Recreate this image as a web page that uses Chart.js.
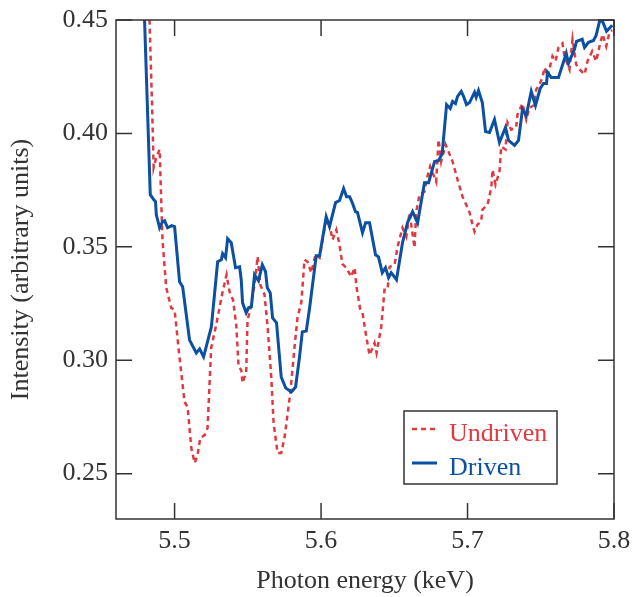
<!DOCTYPE html>
<html><head><meta charset="utf-8">
<script src="https://cdn.jsdelivr.net/npm/chart.js@4.4.1/dist/chart.umd.min.js"></script>
<style>html,body{margin:0;padding:0;background:#fff;}</style>
</head><body>
<canvas id="c" width="632" height="597" style="width:632px;height:597px;display:block"></canvas>
<script>
const seriesLabels = ['Undriven', 'Driven'];
const xAxisTitle = 'Photon energy (keV)';
const yAxisTitle = 'Intensity (arbitrary units)';
const xTickValues = [5.5, 5.6, 5.7, 5.8];
const yTickValues = [0.25, 0.30, 0.35, 0.40, 0.45];

const undrivenEnergy = [5.4820,5.4829,5.4848,5.4857,5.4875,5.4898,5.4909,5.4918,5.4943,5.4977,5.5000,5.5034,5.5068,5.5089,5.5114,5.5137,5.5157,5.5175,5.5205,5.5225,5.5250,5.5284,5.5328,5.5355,5.5375,5.5399,5.5421,5.5437,5.5455,5.5464,5.5489,5.5498,5.5517,5.5546,5.5567,5.5585,5.5614,5.5635,5.5660,5.5676,5.5703,5.5728,5.5751,5.5790,5.5819,5.5840,5.5865,5.5887,5.5908,5.5933,5.5962,5.5990,5.6008,5.6035,5.6058,5.6078,5.6104,5.6126,5.6145,5.6172,5.6206,5.6229,5.6242,5.6268,5.6283,5.6309,5.6331,5.6365,5.6379,5.6411,5.6433,5.6454,5.6468,5.6502,5.6522,5.6556,5.6582,5.6604,5.6638,5.6650,5.6672,5.6706,5.6720,5.6745,5.6786,5.6802,5.6820,5.6850,5.6898,5.6932,5.6966,5.6991,5.7014,5.7034,5.7048,5.7068,5.7093,5.7102,5.7137,5.7162,5.7171,5.7191,5.7218,5.7230,5.7259,5.7273,5.7298,5.7332,5.7341,5.7375,5.7401,5.7423,5.7451,5.7469,5.7491,5.7512,5.7526,5.7546,5.7580,5.7601,5.7621,5.7648,5.7662,5.7696,5.7717,5.7742,5.7765,5.7799,5.7819,5.7851,5.7878,5.7901,5.7922,5.7947,5.7969,5.7988];
const undrivenIntensity = [0.470,0.4496,0.4083,0.3849,0.3894,0.3929,0.3699,0.3523,0.3320,0.3231,0.3222,0.3010,0.2816,0.2794,0.2613,0.2547,0.2582,0.2657,0.2670,0.2701,0.3055,0.3156,0.3302,0.3377,0.3302,0.3266,0.3156,0.2970,0.2957,0.2900,0.2948,0.3178,0.3222,0.3333,0.3457,0.3333,0.3289,0.3147,0.2926,0.2723,0.2591,0.2591,0.2661,0.2856,0.3059,0.3192,0.3253,0.3443,0.3434,0.3386,0.3465,0.3452,0.3518,0.3620,0.3598,0.3531,0.3575,0.3509,0.3425,0.3408,0.3368,0.3408,0.3324,0.3222,0.3209,0.3103,0.3023,0.3076,0.3032,0.3147,0.3311,0.3311,0.3412,0.3421,0.3500,0.3584,0.3545,0.3651,0.3496,0.3655,0.3730,0.3743,0.3796,0.3854,0.3787,0.3973,0.3876,0.3951,0.3876,0.3796,0.3721,0.3686,0.3651,0.3598,0.3567,0.3598,0.3611,0.3664,0.3686,0.3761,0.3840,0.3774,0.3832,0.3942,0.3929,0.4048,0.4017,0.4026,0.4083,0.4132,0.4061,0.4114,0.4123,0.4194,0.4216,0.4247,0.4291,0.4251,0.4340,0.4318,0.4379,0.4397,0.4340,0.4282,0.4415,0.4304,0.4282,0.4260,0.4318,0.4362,0.4318,0.4384,0.4437,0.4384,0.4446,0.4455];

const drivenEnergy = [5.4785,5.4795,5.4834,5.4857,5.4870,5.4875,5.4898,5.4918,5.4932,5.4952,5.4980,5.5000,5.5034,5.5055,5.5102,5.5148,5.5171,5.5198,5.5251,5.5294,5.5319,5.5328,5.5348,5.5362,5.5387,5.5416,5.5444,5.5455,5.5464,5.5489,5.5505,5.5524,5.5546,5.5573,5.5599,5.5621,5.5633,5.5653,5.5669,5.5696,5.5728,5.5758,5.5797,5.5826,5.5853,5.5872,5.5899,5.5922,5.5967,5.5990,5.6035,5.6058,5.6099,5.6126,5.6154,5.6174,5.6195,5.6213,5.6235,5.6249,5.6283,5.6304,5.6331,5.6372,5.6392,5.6418,5.6440,5.6461,5.6479,5.6515,5.6556,5.6590,5.6625,5.6659,5.6706,5.6734,5.6775,5.6802,5.6827,5.6857,5.6882,5.6898,5.6918,5.6932,5.6957,5.6973,5.6993,5.7014,5.7048,5.7059,5.7075,5.7101,5.7123,5.7150,5.7184,5.7218,5.7259,5.7280,5.7321,5.7348,5.7375,5.7401,5.7435,5.7464,5.7496,5.7519,5.7539,5.7546,5.7571,5.7621,5.7674,5.7689,5.7730,5.7744,5.7783,5.7799,5.7826,5.7860,5.7878,5.7901,5.7922,5.7949,5.7988];
const drivenIntensity = [0.470,0.450,0.3730,0.3708,0.3699,0.3642,0.3584,0.3611,0.3615,0.3584,0.3593,0.3589,0.3346,0.3324,0.3090,0.3032,0.3050,0.3015,0.3147,0.3434,0.3443,0.3470,0.3452,0.3536,0.3518,0.3408,0.3412,0.3355,0.3253,0.3209,0.3231,0.3235,0.3377,0.3350,0.3421,0.3390,0.3319,0.3297,0.3187,0.3165,0.2926,0.2878,0.2860,0.2882,0.3015,0.3125,0.3129,0.3231,0.3461,0.3461,0.3633,0.3589,0.3695,0.3704,0.3757,0.3721,0.3721,0.3695,0.3655,0.3651,0.3562,0.3606,0.3606,0.3465,0.3456,0.3386,0.3408,0.3364,0.3386,0.3355,0.3518,0.3606,0.3655,0.3606,0.3783,0.3783,0.3876,0.3880,0.3911,0.4127,0.4110,0.4141,0.4132,0.4163,0.4185,0.4163,0.4127,0.4136,0.4181,0.4159,0.4189,0.4136,0.4008,0.4004,0.4061,0.3960,0.4026,0.3969,0.3947,0.3969,0.4106,0.4079,0.4185,0.4123,0.4198,0.4220,0.4220,0.4269,0.4247,0.4247,0.4353,0.4309,0.4371,0.4406,0.4415,0.4379,0.4402,0.4410,0.4432,0.4494,0.4494,0.4450,0.4477];

const RED = '#e2383f';
const BLUE = '#0b50a3';
const INK = '#333333';
const FONT = '"Liberation Serif", "Times New Roman", serif';

const toPoints = (xs, ys) => xs.map((x, i) => ({x: x, y: ys[i]}));

const frameTicks = {
  id: 'frameTicks',
  afterDatasetsDraw(chart) {
    const {ctx, chartArea: a, scales} = chart;
    const L = 16;
    ctx.save();
    ctx.strokeStyle = INK;
    ctx.lineWidth = 1.5;
    ctx.beginPath();
    xTickValues.forEach(v => {
      const px = scales.x.getPixelForValue(v);
      ctx.moveTo(px, a.bottom); ctx.lineTo(px, a.bottom - L);
      ctx.moveTo(px, a.top); ctx.lineTo(px, a.top + L);
    });
    yTickValues.forEach(v => {
      const py = scales.y.getPixelForValue(v);
      ctx.moveTo(a.left, py); ctx.lineTo(a.left + L, py);
      ctx.moveTo(a.right, py); ctx.lineTo(a.right - L, py);
    });
    ctx.stroke();
    ctx.strokeRect(a.left, a.top, a.right - a.left, a.bottom - a.top);
    ctx.restore();
  }
};

const boxLegend = {
  id: 'boxLegend',
  afterDraw(chart) {
    const {ctx, chartArea: a} = chart;
    const right = a.right - 57, bottom = a.bottom - 35;
    const w = 153, h = 73;
    const left = right - w, top = bottom - h;
    ctx.save();
    ctx.fillStyle = '#fff';
    ctx.fillRect(left, top, w, h);
    ctx.strokeStyle = INK;
    ctx.lineWidth = 1.5;
    ctx.strokeRect(left, top, w, h);
    ctx.font = '26px ' + FONT;
    ctx.textBaseline = 'alphabetic';
    ctx.textAlign = 'left';
    chart.data.datasets.forEach((ds, i) => {
      const cy = top + 18 + i * 34;
      ctx.beginPath();
      ctx.strokeStyle = ds.borderColor;
      ctx.lineWidth = ds.borderWidth;
      ctx.setLineDash(ds.borderDash || []);
      ctx.moveTo(left + 8, cy);
      ctx.lineTo(left + 33, cy);
      ctx.stroke();
      ctx.setLineDash([]);
      ctx.fillStyle = ds.borderColor;
      ctx.fillText(ds.label, left + 45, cy + 12);
    });
    ctx.restore();
  }
};

new Chart(document.getElementById('c'), {
  type: 'line',
  data: {
    datasets: [
      {label: seriesLabels[0], data: toPoints(undrivenEnergy, undrivenIntensity), borderColor: RED, borderWidth: 2.5, borderDash: [5, 4], pointRadius: 0, tension: 0, fill: false, order: 2, clip: 0},
      {label: seriesLabels[1], data: toPoints(drivenEnergy, drivenIntensity), borderColor: BLUE, borderWidth: 3, pointRadius: 0, tension: 0, fill: false, order: 1, clip: 0}
    ]
  },
  options: {
    responsive: false,
    devicePixelRatio: 1,
    animation: false,
    layout: {padding: {top: 20, right: 18, bottom: 0, left: 0}},
    plugins: {legend: {display: false}, tooltip: {enabled: false}},
    scales: {
      x: {
        type: 'linear', min: 5.46, max: 5.8,
        grid: {display: false, drawTicks: false},
        border: {display: false},
        afterBuildTicks: s => { s.ticks = xTickValues.map(v => ({value: v})); },
        afterFit: s => { s.height = 78; s.paddingLeft = 0; s.paddingRight = 0; },
        ticks: {color: INK, padding: 7, font: {family: FONT, size: 26}, maxRotation: 0, callback: v => Number(v).toFixed(1)},
        title: {display: true, text: xAxisTitle, color: INK, font: {family: FONT, size: 26}, padding: {top: 0, bottom: 0}}
      },
      y: {
        type: 'linear', min: 0.23, max: 0.45,
        grid: {display: false, drawTicks: false},
        border: {display: false},
        afterBuildTicks: s => { s.ticks = yTickValues.map(v => ({value: v})); },
        afterFit: s => { s.width = 116; s.paddingTop = 0; s.paddingBottom = 0; },
        ticks: {color: INK, padding: 8, font: {family: FONT, size: 26}, callback: v => Number(v).toFixed(2)},
        title: {display: true, text: yAxisTitle, color: INK, font: {family: FONT, size: 26}, padding: {top: 6, bottom: 0}}
      }
    }
  },
  plugins: [frameTicks, boxLegend]
});
</script>
</body></html>
